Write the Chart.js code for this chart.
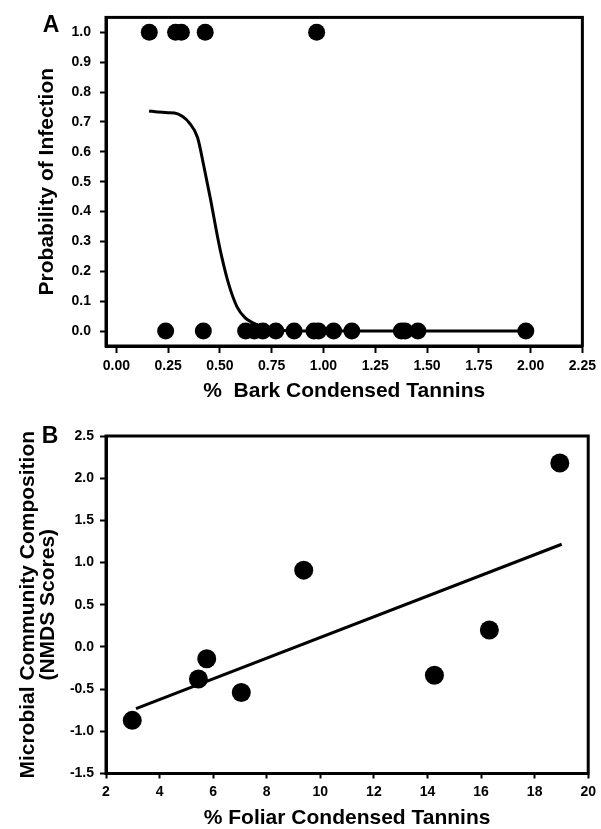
<!DOCTYPE html>
<html>
<head>
<meta charset="utf-8">
<script src="https://cdn.jsdelivr.net/npm/chart.js@4.4.1/dist/chart.umd.min.js"></script>
<style>
  html, body { margin: 0; padding: 0; background: #fff; }
  body { width: 601px; height: 829px; position: relative; overflow: hidden; }
  .wrap { position: absolute; left: 0; width: 601px; }
</style>
</head>
<body>
<div class="wrap" style="top:0;height:405px;"><canvas id="chartA"></canvas></div>
<div class="wrap" style="top:405px;height:424px;"><canvas id="chartB"></canvas></div>
<script>
// ---------- Panel A data ----------
const barkInfectedX = [0.159, 0.286, 0.314, 0.429, 0.967];          // probability = 1
const barkUninfectedX = [0.238, 0.420, 0.624, 0.666, 0.707, 0.770, 0.858, 0.954, 0.976,
                         1.049, 1.137, 1.376, 1.394, 1.456, 1.977];   // probability = 0
const curveX = [0.158, 0.20, 0.25, 0.281, 0.32, 0.352, 0.392, 0.423, 0.455, 0.487,
                0.510, 0.542, 0.582, 0.622, 0.661, 0.70, 0.75, 0.80, 1.00, 1.50, 1.977];
const curveY = [0.737, 0.733, 0.731, 0.730, 0.718, 0.697, 0.648, 0.550, 0.440, 0.321,
                0.245, 0.158, 0.082, 0.044, 0.027, 0.013, 0.005, 0.002, 0, 0, 0];
const xTicksA = [0, 0.25, 0.5, 0.75, 1.0, 1.25, 1.5, 1.75, 2.0, 2.25];
const yTicksA = [0, 0.1, 0.2, 0.3, 0.4, 0.5, 0.6, 0.7, 0.8, 0.9, 1.0];

// ---------- Panel B data ----------
const foliarX = [2.98, 5.45, 5.76, 7.05, 9.38, 14.26, 16.31, 18.94];
const nmdsY   = [-0.87, -0.38, -0.14, -0.54, 0.91, -0.335, 0.20, 2.18];
const fitX = [3.12, 19.01];
const fitY = [-0.73, 1.217];
const xTicksB = [2, 4, 6, 8, 10, 12, 14, 16, 18, 20];
const yTicksB = [-1.5, -1.0, -0.5, 0.0, 0.5, 1.0, 1.5, 2.0, 2.5];

const FONT = "'Liberation Sans', Arial, Helvetica, sans-serif";

const framePlugin = {
  id: 'frame',
  afterDraw(chart, args, opts) {
    const {ctx, chartArea: a} = chart;
    ctx.save();
    ctx.strokeStyle = '#000';
    ctx.lineWidth = 3;
    ctx.strokeRect(a.left, a.top, a.right - a.left, a.bottom - a.top);
    ctx.fillStyle = '#000';
    ctx.font = 'bold 23px ' + FONT;
    ctx.textAlign = 'center';
    ctx.textBaseline = 'middle';
    ctx.fillText(opts.letter, opts.lx, opts.ly);
    ctx.restore();
  }
};

function axisCommon(tickList, decimals, tickLen, tickPad, fontSize) {
  return {
    type: 'linear',
    afterBuildTicks: s => { s.ticks = tickList.map(v => ({value: v})); },
    ticks: {
      callback: v => Number(v).toFixed(decimals),
      color: '#000',
      font: {family: FONT, size: fontSize, weight: 'bold'},
      padding: tickPad,
      maxRotation: 0,
      autoSkip: false
    },
    grid: {display: true, drawOnChartArea: false, drawTicks: true,
           tickLength: tickLen, tickWidth: 2, tickColor: '#000'},
    border: {display: true, color: '#000', width: 3}
  };
}

// ---------- Chart A ----------
const xA = axisCommon(xTicksA, 2, 7, 5, 14);
xA.min = -0.05; xA.max = 2.25;
xA.title = {display: true, text: '%  Bark Condensed Tannins', color: '#000',
            font: {family: FONT, size: 21, weight: 'bold', lineHeight: 1},
            padding: {top: 0, bottom: 3}};
xA.afterFit = s => { s.height = 59; };

const yA = axisCommon(yTicksA, 1, 6, 9, 14);
yA.min = -0.05; yA.max = 1.05;
yA.title = {display: true, text: 'Probability of Infection', color: '#000',
            font: {family: FONT, size: 21, weight: 'bold', lineHeight: 1},
            padding: {top: 37, bottom: 0}};
yA.afterFit = s => { s.width = 106; };

new Chart(document.getElementById('chartA'), {
  type: 'scatter',
  data: {
    datasets: [
      {data: curveX.map((x, i) => ({x: x, y: curveY[i]})), showLine: true,
       borderColor: '#000', borderWidth: 3, pointRadius: 0,
       cubicInterpolationMode: 'monotone', fill: false},
      {data: barkInfectedX.map(x => ({x: x, y: 1})), pointRadius: 8.5,
       backgroundColor: '#000', borderColor: '#000', borderWidth: 0},
      {data: barkUninfectedX.map(x => ({x: x, y: 0})), pointRadius: 8.5,
       backgroundColor: '#000', borderColor: '#000', borderWidth: 0}
    ]
  },
  options: {
    responsive: true, maintainAspectRatio: false, animation: false, devicePixelRatio: 1,
    layout: {padding: {top: 10, right: 12, left: 0, bottom: 0}},
    plugins: {legend: {display: false}, tooltip: {enabled: false},
              frame: {letter: 'A', lx: 51, ly: 26}},
    scales: {x: xA, y: yA}
  },
  plugins: [framePlugin]
});

// ---------- Chart B ----------
const xB = axisCommon(xTicksB, 0, 5, 5, 14);
xB.min = 2; xB.max = 20;
xB.title = {display: true, text: '% Foliar Condensed Tannins', color: '#000',
            font: {family: FONT, size: 21, weight: 'bold', lineHeight: 1},
            padding: {top: 0, bottom: 0}};
xB.afterFit = s => { s.height = 55.5; };

const yB = axisCommon(yTicksB, 1, 6, 6, 14);
yB.min = -1.5; yB.max = 2.5;
yB.title = {display: true, text: ['Microbial Community Composition', '(NMDS Scores)'], color: '#000',
            font: {family: FONT, size: 21, weight: 'bold', lineHeight: 0.95},
            padding: {top: 18, bottom: 0}};
yB.afterFit = s => { s.width = 106; };

new Chart(document.getElementById('chartB'), {
  type: 'scatter',
  data: {
    datasets: [
      {data: fitX.map((x, i) => ({x: x, y: fitY[i]})), showLine: true,
       borderColor: '#000', borderWidth: 3, pointRadius: 0, fill: false},
      {data: foliarX.map((x, i) => ({x: x, y: nmdsY[i]})), pointRadius: 9.5,
       backgroundColor: '#000', borderColor: '#000', borderWidth: 0}
    ]
  },
  options: {
    responsive: true, maintainAspectRatio: false, animation: false, devicePixelRatio: 1,
    layout: {padding: {top: 31, right: 12, left: 0, bottom: 0}},
    plugins: {legend: {display: false}, tooltip: {enabled: false},
              frame: {letter: 'B', lx: 50, ly: 32}},
    scales: {x: xB, y: yB}
  },
  plugins: [framePlugin]
});
</script>
</body>
</html>
